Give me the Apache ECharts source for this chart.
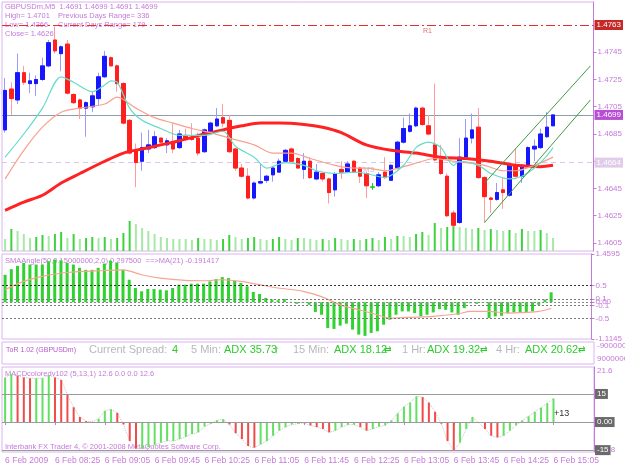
<!DOCTYPE html>
<html>
<head>
<meta charset="utf-8">
<title>GBPUSDm,M5</title>
<script src="https://cdn.jsdelivr.net/npm/echarts@6/dist/echarts.min.js"></script>
<style>
  html, body { margin: 0; padding: 0; background: #fff; }
  #myChart { width: 625px; height: 469px; }
</style>
</head>
<body>
<div id="myChart"></div>
<script>
  // bar times (M5), the last 6 are empty space on the right
  var times = ['07:45', '07:50', '07:55', '08:00', '08:05', '08:10', '08:15', '08:20', '08:25', '08:30',
    '08:35', '08:40', '08:45', '08:50', '08:55', '09:00', '09:05', '09:10', '09:15', '09:20',
    '09:25', '09:30', '09:35', '09:40', '09:45', '09:50', '09:55', '10:00', '10:05', '10:10',
    '10:15', '10:20', '10:25', '10:30', '10:35', '10:40', '10:45', '10:50', '10:55', '11:00',
    '11:05', '11:10', '11:15', '11:20', '11:25', '11:30', '11:35', '11:40', '11:45', '11:50',
    '11:55', '12:00', '12:05', '12:10', '12:15', '12:20', '12:25', '12:30', '12:35', '12:40',
    '12:45', '12:50', '12:55', '13:00', '13:05', '13:10', '13:15', '13:20', '13:25', '13:30',
    '13:35', '13:40', '13:45', '13:50', '13:55', '14:00', '14:05', '14:10', '14:15', '14:20',
    '14:25', '14:30', '14:35', '14:40', '14:45', '14:50', '14:55', '15:00', '15:05',
    '15:10', '15:15', '15:20', '15:25', '15:30', '15:35']

  var openList = [1.4688, 1.4718, 1.4710, 1.4730, 1.4722, 1.4722, 1.4725, 1.4735, 1.4754, 1.4744,
    1.4751, 1.4714, 1.4710, 1.4704, 1.4705, 1.4711, 1.4727, 1.4741, 1.4735, 1.4722,
    1.4695, 1.4673, 1.4665, 1.4674, 1.4675, 1.4682, 1.4677, 1.4679, 1.4675, 1.4684,
    1.4682, 1.4682, 1.4672, 1.4687, 1.4691, 1.4697, 1.4695, 1.4674, 1.4660, 1.4654,
    1.4638, 1.4649, 1.4651, 1.4655, 1.4657, 1.4665, 1.4674, 1.4667, 1.4659, 1.4665,
    1.4652, 1.4656, 1.4652, 1.4644, 1.4659, 1.4657, 1.4665, 1.4660, 1.4656, 1.4646,
    1.4647, 1.4657, 1.4651, 1.4660, 1.4679, 1.4687, 1.4691, 1.4704, 1.4691, 1.4677,
    1.4668, 1.4654, 1.4627, 1.4620, 1.4668, 1.4682, 1.4690, 1.4653, 1.4638, 1.4637,
    1.4644, 1.4640, 1.4662, 1.4654, 1.4662, 1.4674, 1.4675, 1.4683, 1.4691]
  var closeList = [1.4717, 1.4711, 1.4730, 1.4723, 1.4724, 1.4725, 1.4735, 1.4752, 1.4746, 1.4749,
    1.4715, 1.4708, 1.4704, 1.4708, 1.4713, 1.4727, 1.4742, 1.4735, 1.4722, 1.4693,
    1.4671, 1.4664, 1.4675, 1.4677, 1.4683, 1.4679, 1.4680, 1.4674, 1.4685, 1.4681,
    1.4681, 1.4671, 1.4688, 1.4693, 1.4696, 1.4693, 1.4672, 1.4660, 1.4654, 1.4638,
    1.4649, 1.4650, 1.4654, 1.4660, 1.4665, 1.4673, 1.4665, 1.4660, 1.4665, 1.4653,
    1.4657, 1.4652, 1.4642, 1.4656, 1.4657, 1.4663, 1.4657, 1.4654, 1.4647, 1.4646,
    1.4655, 1.4653, 1.4662, 1.4679, 1.4689, 1.4691, 1.4704, 1.4692, 1.4685, 1.4666,
    1.4656, 1.4625, 1.4618, 1.4668, 1.4682, 1.4688, 1.4653, 1.4639, 1.4637, 1.4642,
    1.4642, 1.4662, 1.4654, 1.4662, 1.4675, 1.4676, 1.4685, 1.4690, 1.4699]
  var lowList = [1.4686, 1.4699, 1.4707, 1.4721, 1.4715, 1.4713, 1.4724, 1.4734, 1.4744, 1.4731,
    1.4714, 1.4707, 1.4696, 1.4683, 1.4701, 1.4706, 1.4726, 1.4735, 1.4716, 1.4692,
    1.4670, 1.4646, 1.4658, 1.4671, 1.4674, 1.4678, 1.4671, 1.4671, 1.4674, 1.4680,
    1.4680, 1.4669, 1.4671, 1.4685, 1.4690, 1.4690, 1.4671, 1.4658, 1.4653, 1.4637,
    1.4637, 1.4648, 1.4649, 1.4650, 1.4657, 1.4664, 1.4665, 1.4660, 1.4652, 1.4652,
    1.4651, 1.4650, 1.4634, 1.4639, 1.4652, 1.4657, 1.4657, 1.4649, 1.4638, 1.4644,
    1.4646, 1.4652, 1.4651, 1.4659, 1.4678, 1.4686, 1.4690, 1.4691, 1.4684, 1.4665,
    1.4655, 1.4624, 1.4617, 1.4619, 1.4667, 1.4678, 1.4652, 1.4620, 1.4627, 1.4636,
    1.4630, 1.4639, 1.4653, 1.4649, 1.4661, 1.4665, 1.4674, 1.4682, 1.4691]
  var highList = [1.4726, 1.4723, 1.4744, 1.4735, 1.4730, 1.4728, 1.4741, 1.4754, 1.4764, 1.4750,
    1.4754, 1.4715, 1.4711, 1.4709, 1.4716, 1.4730, 1.4746, 1.4742, 1.4736, 1.4723,
    1.4696, 1.4678, 1.4686, 1.4688, 1.4687, 1.4682, 1.4682, 1.4693, 1.4688, 1.4689,
    1.4693, 1.4686, 1.4689, 1.4694, 1.4704, 1.4707, 1.4699, 1.4675, 1.4663, 1.4660,
    1.4650, 1.4663, 1.4655, 1.4661, 1.4667, 1.4674, 1.4675, 1.4668, 1.4671, 1.4668,
    1.4663, 1.4657, 1.4653, 1.4657, 1.4665, 1.4665, 1.4666, 1.4661, 1.4657, 1.4649,
    1.4657, 1.4668, 1.4663, 1.4680, 1.4697, 1.4700, 1.4705, 1.4705, 1.4699, 1.4722,
    1.4677, 1.4656, 1.4629, 1.4682, 1.4696, 1.4700, 1.4704, 1.4654, 1.4639, 1.4649,
    1.4653, 1.4663, 1.4674, 1.4663, 1.4676, 1.4681, 1.4689, 1.4701, 1.4699]
  // tick volume
  var volumeList = [60, 110, 100, 85, 65, 70, 80, 75, 85, 95,
    65, 85, 60, 65, 70, 65, 70, 60, 65, 90,
    150, 135, 115, 100, 85, 70, 65, 60, 60, 60,
    55, 65, 60, 60, 55, 60, 80, 70, 60, 65,
    70, 60, 55, 60, 70, 60, 55, 65, 65, 60,
    55, 60, 55, 65, 60, 55, 60, 55, 60, 65,
    55, 70, 60, 75, 75, 70, 85, 95, 80, 140,
    115, 120, 135, 120, 115, 110, 115, 105, 110, 105,
    100, 105, 90, 110, 100, 100, 105, 90, 65]

  // moving averages, read at these bars
  var maSlowBars = [0, 3, 6, 9, 12, 16, 19, 22, 25, 28, 32, 35, 38, 41, 44, 48, 51, 54, 58, 62, 66, 70, 74, 78, 82, 86, 88]
  var maSlowVals = [1.4629, 1.4635, 1.4640, 1.4649, 1.4656, 1.4665, 1.4671, 1.4674, 1.4677, 1.4680, 1.4685, 1.4688, 1.4691, 1.4693,
    1.4693, 1.4692, 1.4690, 1.4686, 1.4677, 1.4673, 1.4671, 1.4668, 1.4667, 1.4665, 1.4662, 1.4661, 1.4662]
  var maMidBars = [0, 3, 6, 9, 12, 16, 18, 21, 24, 27, 30, 33, 36, 40, 43, 46, 49, 53, 56, 58, 61, 64, 67, 69, 72, 74, 77, 80, 82, 85, 88]
  var maMidVals = [1.4652, 1.4673, 1.4690, 1.4701, 1.4704, 1.4707, 1.4712, 1.4704, 1.4697, 1.4693, 1.4689, 1.4686, 1.4682, 1.4677,
    1.4671, 1.4671, 1.4667, 1.4662, 1.4660, 1.4660, 1.4658, 1.4661, 1.4665, 1.4667, 1.4665, 1.4664, 1.4662, 1.4658, 1.4658, 1.4662, 1.4668]
  var maFastBars = [0, 3, 6, 9, 11, 14, 16, 17, 18, 20, 22, 25, 28, 32, 35, 37, 40, 42, 45, 48, 50, 53, 56, 58, 61, 64, 66, 68, 70, 72,
    73, 76, 78, 81, 83, 85, 87, 88]
  var maFastVals = [1.4668, 1.4685, 1.4704, 1.4727, 1.4723, 1.4716, 1.4721, 1.4724, 1.4723, 1.4704, 1.4695, 1.4689, 1.4684, 1.4684,
    1.4687, 1.4676, 1.4668, 1.4660, 1.4664, 1.4662, 1.4658, 1.4656, 1.4657, 1.4656, 1.4653, 1.4662, 1.4675, 1.4679, 1.4675, 1.4662,
    1.4665, 1.4662, 1.4656, 1.4652, 1.4654, 1.4660, 1.4669, 1.4675]
  // trend channel
  var channelBars = [77, 94]
  var channelUpper = [1.4649, 1.4735]
  var channelLower = [1.4620, 1.4710]
  // horizontal lines: R1 pivot, bid, M3
  var levelR1 = 1.4765
  var levelBid = 1.4699
  var levelM3 = 1.4664
  var priceTicks = [1.4605, 1.4625, 1.4645, 1.4665, 1.4685, 1.4705, 1.4725, 1.4745]

  // SMAAngle panel
  var smaAngle = [0.83, 1.00, 1.10, 1.19, 1.14, 1.14, 1.14, 1.24, 1.29, 1.27,
    1.19, 1.14, 1.04, 0.98, 0.98, 1.04, 1.17, 1.26, 1.19, 0.98,
    0.68, 0.43, 0.33, 0.40, 0.40, 0.38, 0.36, 0.43, 0.53, 0.53,
    0.56, 0.56, 0.56, 0.63, 0.70, 0.76, 0.73, 0.65, 0.58, 0.48,
    0.31, 0.25, 0.13, 0.08, 0.06, 0.10, 0.01, -0.05, -0.02, -0.08,
    -0.30, -0.38, -0.78, -0.81, -0.71, -0.65, -0.83, -0.98, -1.02, -0.93,
    -0.88, -0.68, -0.53, -0.38, -0.28, -0.28, -0.33, -0.43, -0.38, -0.31,
    -0.21, -0.23, -0.31, -0.38, -0.18, -0.03, -0.05, -0.02, -0.48, -0.43,
    -0.41, -0.33, -0.31, -0.31, -0.31, -0.28, -0.08, 0.08, 0.30]
  var smaMaBars = [0, 3, 6, 10, 16, 19, 22, 25, 29, 32, 35, 38, 41, 44, 48, 51, 54, 57, 60, 62, 65, 69, 73, 75, 78, 81, 84, 86, 88]
  var smaMaVals = [0.38, 0.63, 0.78, 0.90, 0.96, 0.98, 0.83, 0.73, 0.66, 0.65, 0.68, 0.63, 0.53, 0.43, 0.33, 0.17, -0.08, -0.23,
    -0.38, -0.48, -0.46, -0.43, -0.35, -0.28, -0.28, -0.33, -0.31, -0.28, -0.19]
  var smaTicks = [1.4595, 0.5, 0.1, 0, -0.1, -0.5, -1.1145]

  // MACD panel
  var macdList = [23.8, 25.6, 24.7, 23.8, 23.4, 23.4, 23.4, 25.0, 23.8, 22.5,
    14.6, 7.9, 2.7, 0.5, 0.1, 1.8, 6.0, 6.8, 4.9, -1.3,
    -10.1, -14.1, -14.1, -13.3, -12.2, -11.0, -10.1, -10.1, -9.1, -7.9,
    -6.4, -5.5, -2.4, -0.9, 0.9, 1.5, -1.3, -6.0, -9.1, -12.8,
    -13.7, -11.9, -10.1, -7.3, -4.6, -2.7, -1.3, -0.9, -0.5, -1.8,
    -2.7, -3.7, -5.5, -4.6, -2.7, -1.5, -1.3, -2.7, -4.6, -3.7,
    -2.4, -1.8, 0.9, 4.6, 8.2, 10.4, 13.7, 13.3, 10.4, 5.5,
    -0.9, -10.1, -15.2, -11.0, -3.7, 2.7, -0.4, -3.7, -7.3, -8.2,
    -7.3, -4.6, -1.8, 0.9, 3.1, 5.5, 7.7, 10.1, 12.6]
  var macdLevels = [15, 0, -15]

  var violet = '#c47ad8'
  var border = '#dab4ee'
  var font = '"Liberation Sans", Arial, sans-serif'

  function txt(x, y, s, color, size, align) {
    return {
      type: 'text', x: x, y: y, z: 0,
      style: { text: s, fill: color, font: size + 'px ' + font, align: align || 'left', verticalAlign: 'middle' }
    }
  }
  function boxLabel(text, bg, fg) {
    return { show: true, position: 'end', distance: 1, formatter: text, color: fg || '#fff', backgroundColor: bg, padding: [1, 2], fontSize: 8 }
  }

  var candleData = []
  var bodyData = []
  for (let i = 0; i < openList.length; i++) {
    let o = openList[i], c = closeList[i]
    candleData.push([o, c, lowList[i], highList[i]])
    bodyData.push([o, c, Math.min(o, c), Math.max(o, c)])
  }
  function pairs(bars, vals) {
    return bars.map(function (b, k) { return [b, vals[k]] })
  }

  var myChart = echarts.init(document.getElementById('myChart'))

  var grids = [
    { top: 2, height: 249 },
    { top: 254, height: 85 },
    { top: 342, height: 22 },
    { top: 367, height: 85 }
  ].map(function (g) {
    return { left: 2, right: 31, top: g.top, height: g.height, show: true, borderColor: border, borderWidth: 1, backgroundColor: '#fff' }
  })

  var showTime = function (index) { return index % 8 === 0 && index <= 88 }
  var xAxes = [0, 1, 2, 3].map(function (g) {
    return {
      type: 'category', gridIndex: g, data: times, boundaryGap: true,
      axisLine: { show: false }, axisTick: { show: false }, axisLabel: { show: false }, splitLine: { show: false }
    }
  })
  xAxes[3].axisTick = { show: true, interval: showTime, alignWithLabel: true, length: 3, lineStyle: { color: violet } }
  xAxes[3].axisLabel = {
    show: true, interval: showTime, align: 'left', color: violet, fontSize: 8.5, margin: 4, fontFamily: font,
    formatter: function (value, index) { return index === 0 ? '6 Feb 2009' : '6 Feb ' + value }
  }

  var option = {
    animation: false,
    backgroundColor: '#fff',
    textStyle: { fontFamily: font },
    grid: grids,
    xAxis: xAxes,
    yAxis: [{
      gridIndex: 0, position: 'right', min: 1.45991, max: 1.47819,
      splitLine: { show: false },
      axisLine: { show: true, lineStyle: { color: violet } },
      axisTick: { show: true, customValues: priceTicks, length: 3, lineStyle: { color: violet } },
      axisLabel: { customValues: priceTicks, color: violet, fontSize: 8, margin: 4, formatter: function (v) { return v.toFixed(4) } }
    }, {
      gridIndex: 0, min: 0, max: 1245, show: false
    }, {
      gridIndex: 1, position: 'right', min: -1.1145, max: 1.4595,
      splitLine: { show: false },
      axisLine: { show: true, lineStyle: { color: violet } },
      axisTick: { show: true, customValues: smaTicks, length: 3, lineStyle: { color: violet } },
      axisLabel: {
        customValues: smaTicks, color: violet, fontSize: 8, margin: 4,
        formatter: function (v) { return v === 0 ? '0.00' : String(v) }
      }
    }, {
      gridIndex: 2, min: 0, max: 1, show: false
    }, {
      gridIndex: 3, position: 'right', min: -16.0, max: 29.4,
      splitLine: { show: false },
      axisLine: { show: true, lineStyle: { color: violet } },
      axisTick: { show: false },
      axisLabel: { show: false }
    }],
    series: [
      {
        name: 'Volumes', type: 'bar', xAxisIndex: 0, yAxisIndex: 1, barWidth: 2, z: 1,
        data: volumeList,
        itemStyle: {
          color: function (p) {
            let i = p.dataIndex
            return i > 0 && volumeList[i] > volumeList[i - 1] ? '#3fd23f' : '#a6e8a6'
          }
        }
      },
      {
        name: 'wick', type: 'candlestick', xAxisIndex: 0, yAxisIndex: 0, barWidth: 4, z: 3,
        data: candleData,
        itemStyle: {
          color: '#9a9aff', color0: '#ff9c9c', borderColor: '#9a9aff', borderColor0: '#ff9c9c',
          borderColorDoji: '#22cc22', borderWidth: 1
        }
      },
      {
        name: 'GBPUSDm', type: 'candlestick', xAxisIndex: 0, yAxisIndex: 0, barWidth: 4, z: 3,
        data: bodyData,
        itemStyle: {
          color: '#1717ff', color0: '#ff1f1f', borderColor: '#1717ff', borderColor0: '#ff1f1f',
          borderColorDoji: '#22cc22', borderWidth: 1
        }
      },
      {
        name: 'MA slow', type: 'line', xAxisIndex: 0, yAxisIndex: 0, smooth: 0.3, showSymbol: false,
        data: pairs(maSlowBars, maSlowVals), lineStyle: { color: '#ff2222', width: 3 }, z: 4,
        markLine: {
          silent: true, symbol: ['none', 'none'], precision: 4, z: 2,
          data: [
            { yAxis: levelR1, lineStyle: { color: '#ee2a2a', type: [9, 3, 2, 3], width: 1, opacity: 1 }, label: boxLabel('1.4763', '#c62828') },
            { yAxis: levelBid, lineStyle: { color: '#8e9cab', type: 'solid', width: 1 }, label: boxLabel('1.4699', '#b64fd4') },
            { yAxis: levelM3, lineStyle: { color: '#dcc6e8', type: [5, 4], width: 1 }, label: boxLabel('1.4664', '#e0cbe9') }
          ]
        }
      },
      {
        name: 'MA mid', type: 'line', xAxisIndex: 0, yAxisIndex: 0, smooth: 0.3, showSymbol: false,
        data: pairs(maMidBars, maMidVals), lineStyle: { color: '#f8a08e', width: 1.2 }, z: 4
      },
      {
        name: 'MA fast', type: 'line', xAxisIndex: 0, yAxisIndex: 0, smooth: 0.3, showSymbol: false,
        data: pairs(maFastBars, maFastVals), lineStyle: { color: '#64dcc8', width: 1.2 }, z: 4
      },
      {
        name: 'channel up', type: 'line', xAxisIndex: 0, yAxisIndex: 0, showSymbol: false,
        data: pairs(channelBars, channelUpper), lineStyle: { color: '#3f9a3f', width: 1 }, z: 5
      },
      {
        name: 'channel down', type: 'line', xAxisIndex: 0, yAxisIndex: 0, showSymbol: false,
        data: pairs(channelBars, channelLower), lineStyle: { color: '#3f9a3f', width: 1 }, z: 5
      },
      {
        name: 'SMAAngle', type: 'bar', xAxisIndex: 1, yAxisIndex: 2, barWidth: 3,
        data: smaAngle, itemStyle: { color: '#2fd22f' },
        markLine: {
          silent: true, symbol: ['none', 'none'], precision: 4, label: { show: false },
          data: [
            { yAxis: 0.5, lineStyle: { color: '#333', type: [2, 2], width: 1 } },
            { yAxis: 0.1, lineStyle: { color: '#777', type: [2, 2], width: 1 } },
            { yAxis: 0, lineStyle: { color: '#888', type: [2, 2], width: 1 } },
            { yAxis: -0.1, lineStyle: { color: '#777', type: [2, 2], width: 1 } },
            { yAxis: -0.5, lineStyle: { color: '#777', type: [2, 2], width: 1 } }
          ]
        }
      },
      {
        name: 'MA(21)', type: 'line', xAxisIndex: 1, yAxisIndex: 2, smooth: 0.3, showSymbol: false,
        data: pairs(smaMaBars, smaMaVals), lineStyle: { color: '#f7a493', width: 1.2 }, z: 3
      },
      {
        name: 'MACD', type: 'bar', xAxisIndex: 3, yAxisIndex: 4, barWidth: 2,
        data: macdList,
        itemStyle: {
          color: function (p) {
            let i = p.dataIndex
            return i > 0 && macdList[i] < macdList[i - 1] ? '#f04a4a' : '#62e062'
          }
        },
        markLine: {
          silent: true, symbol: ['none', 'none'],
          lineStyle: { color: '#9a9a9a', type: 'solid', width: 1 },
          data: macdLevels.map(function (v) {
            return { yAxis: v, label: boxLabel(v === 0 ? '0.00' : String(v), '#6a6a6a') }
          })
        }
      },
      {
        name: 'signal', type: 'line', xAxisIndex: 3, yAxisIndex: 4, showSymbol: false,
        data: macdList, lineStyle: { color: '#c4c4c4', type: 'dotted', width: 1 }, z: 1
      }
    ],
    graphic: [
      txt(5, 7, 'GBPUSDm,M5  1.4691 1.4699 1.4691 1.4699', violet, 7.5),
      txt(5, 16, 'High= 1.4701', violet, 7.5),
      txt(58, 16, 'Previous Days Range= 336', violet, 7.5),
      txt(5, 25, 'Low= 1.4366', violet, 7.5),
      txt(58, 25, 'Current Days Range= 179', violet, 7.5),
      txt(5, 34, 'Close= 1.4626', violet, 7.5),
      txt(423, 31, 'R1', '#e07070', 7),
      txt(363, 170, 'M3', '#cdb6dd', 8),
      txt(5, 261, 'SMAAngle(50,0.15000000,2,0) 0.297500  ==>MA(21) -0.191417', violet, 7.5),
      txt(6, 350, 'ToR 1.02 (GBPUSDm)', '#b45ac8', 7),
      txt(89, 350, 'Current Spread:', '#b8b8b8', 11),
      txt(172, 350, '4', '#2ccc2c', 11),
      txt(191, 350, '5 Min:', '#b8b8b8', 11),
      txt(224, 350, 'ADX 35.73', '#2ccc2c', 11),
      txt(274, 350, '↑', '#2ccc2c', 11),
      txt(293, 350, '15 Min:', '#b8b8b8', 11),
      txt(334, 350, 'ADX 18.12', '#2ccc2c', 11),
      txt(384, 350, '⇄', '#2ccc2c', 9),
      txt(402, 350, '1 Hr:', '#b8b8b8', 11),
      txt(427, 350, 'ADX 19.32', '#2ccc2c', 11),
      txt(480, 350, '⇄', '#2ccc2c', 9),
      txt(496, 350, '4 Hr:', '#b8b8b8', 11),
      txt(525, 350, 'ADX 20.62', '#2ccc2c', 11),
      txt(578, 350, '⇄', '#2ccc2c', 9),
      txt(597, 346, '-9000000', violet, 8),
      txt(597, 359, '9000000', violet, 8),
      txt(5, 374, 'MACDcoloredv102 (5,13,1) 12.6 0.0 0.0 12.6', violet, 7.5),
      txt(5, 447, 'Interbank FX Trader 4, © 2001-2008 MetaQuotes Software Corp.', violet, 7.5),
      txt(554, 414, '+13', '#333', 9),
      txt(597, 371, '21.6', violet, 8),
      txt(597, 450, '-19.8', violet, 8)
    ]
  }

  myChart.setOption(option)
</script>
</body>
</html>
